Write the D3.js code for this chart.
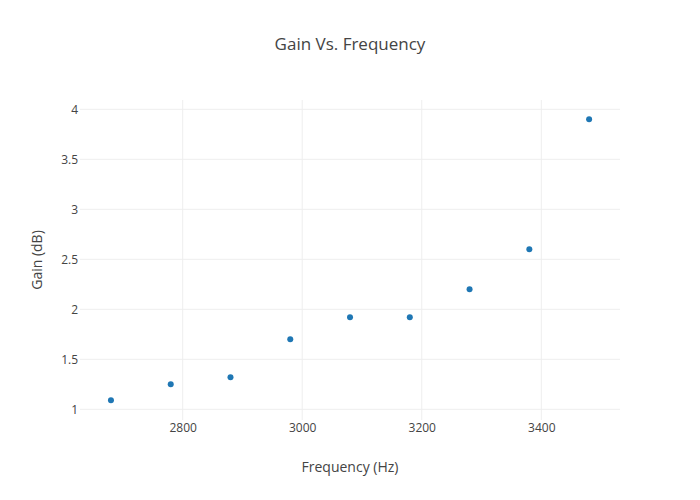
<!DOCTYPE html>
<html>
<head>
<meta charset="utf-8">
<script src="https://cdn.jsdelivr.net/npm/d3@7"></script>
<style>
  html, body { margin: 0; padding: 0; background: #fff; }
  text { font-family: "Open Sans", sans-serif; fill: #444; }
</style>
</head>
<body>
<svg id="chart" width="700" height="500"></svg>
<script>
const frequency = [2680, 2780, 2880, 2980, 3080, 3180, 3280, 3380, 3480];
const gain = [1.09, 1.25, 1.32, 1.70, 1.92, 1.92, 2.20, 2.60, 3.90];
const xTicks = [2800, 3000, 3200, 3400];
const yTicks = [1, 1.5, 2, 2.5, 3, 3.5, 4];
const titleText = "Gain Vs. Frequency";
const xTitle = "Frequency (Hz)";
const yTitle = "Gain (dB)";

const W = 700, H = 500;
const m = {l: 80, r: 80, t: 100, b: 80};
const svg = d3.select("#chart");

const x = d3.scaleLinear().domain([2628.2, 3531.7]).range([m.l, W - m.r]);
const y = d3.scaleLinear().domain([0.893, 4.093]).range([H - m.b, m.t]);

// grid lines
const g = svg.append("g");
g.selectAll("line.xg").data(xTicks).enter().append("line")
  .attr("x1", d => x(d)).attr("x2", d => x(d))
  .attr("y1", m.t).attr("y2", H - m.b)
  .attr("stroke", "#eee").attr("stroke-width", 1);
g.selectAll("line.yg").data(yTicks).enter().append("line")
  .attr("x1", m.l).attr("x2", W - m.r)
  .attr("y1", d => y(d)).attr("y2", d => y(d))
  .attr("stroke", "#eee").attr("stroke-width", 1);

// axes (labels only)
const xAxis = d3.axisBottom(x).tickValues(xTicks).tickSize(0).tickPadding(3).tickFormat(d3.format("d"));
const xa = svg.append("g").attr("transform", `translate(0,${H - m.b})`).call(xAxis);
xa.select(".domain").remove();
xa.selectAll("text").style("font-size", "12px").style("fill", "#444").style("font-family", "'Open Sans', sans-serif");

const yAxis = d3.axisLeft(y).tickValues(yTicks).tickSize(0).tickPadding(2).tickFormat(d => String(d));
const ya = svg.append("g").attr("transform", `translate(${m.l},0)`).call(yAxis);
ya.select(".domain").remove();
ya.selectAll("text").style("font-size", "12px").style("fill", "#444").style("font-family", "'Open Sans', sans-serif");

// points
svg.append("g").selectAll("circle").data(frequency).enter().append("circle")
  .attr("cx", (d) => x(d))
  .attr("cy", (d, i) => y(gain[i]))
  .attr("r", 3)
  .attr("fill", "#1f77b4");

// titles
svg.append("text").attr("x", W / 2).attr("y", 50).attr("text-anchor", "middle")
  .style("font-size", "17px").text(titleText);
svg.append("text").attr("x", 350).attr("y", 472).attr("text-anchor", "middle")
  .style("font-size", "14px").text(xTitle);
svg.append("text").attr("transform", `translate(42,260) rotate(-90)`).attr("text-anchor", "middle")
  .style("font-size", "14px").text(yTitle);
</script>
</body>
</html>
